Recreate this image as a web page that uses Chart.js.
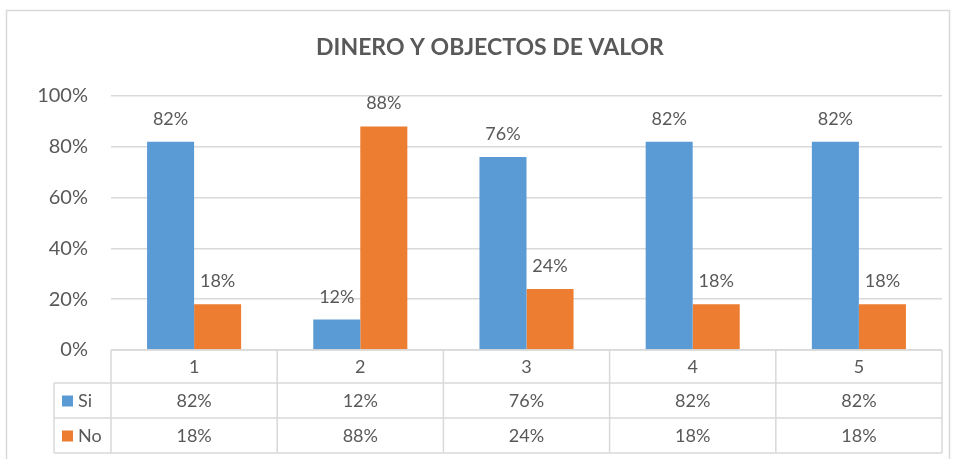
<!DOCTYPE html>
<html>
<head>
<meta charset="utf-8">
<script src="https://cdn.jsdelivr.net/npm/chart.js@4/dist/chart.umd.min.js"></script>
<style>
  html, body { margin: 0; padding: 0; background: #fff; }
  #wrap { width: 956px; height: 459px; }
</style>
</head>
<body>
<div id="wrap"><canvas id="barChart"></canvas></div>
<script>
const categories = ['1', '2', '3', '4', '5'];
const siValues = [82, 12, 76, 82, 82];
const noValues = [18, 88, 24, 18, 18];
const seriesNames = ['Si', 'No'];
const seriesColors = ['#5B9BD5', '#ED7D31'];
const chartTitle = 'DINERO Y OBJECTOS DE VALOR';

const FONT = 'Lato, "Open Sans", sans-serif';
const TEXT = '#595959';
const LINE = '#D9D9D9';

// frame, title, data labels and the data table under the axis
const tablePlugin = {
  id: 'tablePlugin',
  beforeDraw(chart) {
    const c = chart.ctx;
    c.save();
    c.fillStyle = '#fff';
    c.fillRect(0, 0, chart.width, chart.height);
    c.strokeStyle = LINE;
    c.lineWidth = 1.5;
    c.strokeRect(6.5, 10.5, 943, 470);
    c.font = 'bold 23px ' + FONT;
    c.fillStyle = TEXT;
    c.textAlign = 'center';
    c.textBaseline = 'middle';
    c.fillText(chartTitle, 490, 48);
    c.restore();
  },
  afterDatasetsDraw(chart) {
    const c = chart.ctx;
    const x = chart.scales.x;
    const area = chart.chartArea;
    c.save();
    c.font = '18px ' + FONT;
    c.fillStyle = TEXT;
    c.textAlign = 'center';
    c.textBaseline = 'alphabetic';
    chart.data.datasets.forEach((ds, i) => {
      chart.getDatasetMeta(i).data.forEach((bar, j) => {
        c.fillText(ds.data[j] + '%', bar.x, bar.y - 17);
      });
    });

    // table
    const rowH = [33, 35, 35];
    const top = area.bottom;
    const legendLeft = 54;
    const colW = x.getPixelForValue(1) - x.getPixelForValue(0);
    const colLeft = i => x.getPixelForValue(i) - colW / 2;
    const right = colLeft(categories.length);
    const y1 = top + rowH[0], y2 = y1 + rowH[1], y3 = y2 + rowH[2];

    c.strokeStyle = LINE;
    c.lineWidth = 1.5;
    c.beginPath();
    c.moveTo(area.left, top); c.lineTo(right, top);
    c.moveTo(legendLeft, y1); c.lineTo(right, y1);
    c.moveTo(legendLeft, y2); c.lineTo(right, y2);
    c.moveTo(legendLeft, y3); c.lineTo(right, y3);
    c.moveTo(legendLeft, y1); c.lineTo(legendLeft, y3);
    for (let i = 0; i <= categories.length; i++) {
      c.moveTo(colLeft(i), top); c.lineTo(colLeft(i), y3);
    }
    c.stroke();

    c.font = '18px ' + FONT;
    c.fillStyle = TEXT;
    c.textBaseline = 'middle';
    c.textAlign = 'center';
    categories.forEach((cat, i) => {
      c.fillText(cat, x.getPixelForValue(i), top + rowH[0] / 2 + 1);
    });
    const rows = [siValues, noValues];
    rows.forEach((vals, r) => {
      const cy = (r === 0 ? y1 + rowH[1] / 2 : y2 + rowH[2] / 2) + 1;
      c.textAlign = 'center';
      c.fillStyle = TEXT;
      vals.forEach((v, i) => c.fillText(v + '%', x.getPixelForValue(i), cy));
      c.fillStyle = seriesColors[r];
      c.fillRect(62, cy - 6, 11, 11);
      c.fillStyle = TEXT;
      c.textAlign = 'left';
      c.fillText(seriesNames[r], 78, cy);
    });
    c.restore();
  }
};

new Chart(document.getElementById('barChart'), {
  type: 'bar',
  data: {
    labels: categories,
    datasets: [
      { label: seriesNames[0], data: siValues, backgroundColor: seriesColors[0] },
      { label: seriesNames[1], data: noValues, backgroundColor: seriesColors[1] }
    ]
  },
  options: {
    responsive: true,
    maintainAspectRatio: false,
    animation: false,
    devicePixelRatio: 1,
    layout: { padding: { left: 0, right: 14, top: 96, bottom: 101 } },
    datasets: { bar: { barPercentage: 1, categoryPercentage: 0.566 } },
    plugins: {
      legend: { display: false },
      tooltip: { enabled: false },
      title: { display: false }
    },
    scales: {
      x: {
        grid: { display: false },
        border: { display: false },
        ticks: { display: false }
      },
      y: {
        min: 0,
        max: 100,
        afterFit(scale) { scale.width = 111; },
        grid: { color: LINE, lineWidth: 1.5, drawTicks: false },
        border: { display: false },
        ticks: {
          stepSize: 20,
          padding: 23,
          color: TEXT,
          font: { family: FONT, size: 20 },
          callback: v => v + '%'
        }
      }
    }
  },
  plugins: [tablePlugin]
});
</script>
</body>
</html>
